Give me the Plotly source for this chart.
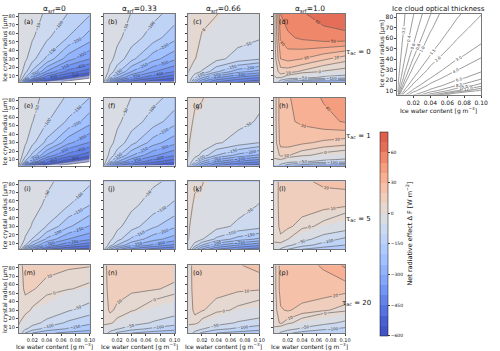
import plotly.graph_objects as go

# ---- data -----------------------------------------------------------------
IWC = [0.001, 0.01, 0.02, 0.04, 0.07, 0.1]  # ice water content [g m-3]
RADIUS = [3, 8, 15, 30, 55, 83]  # ice crystal radius [um]
ALBEDO = ["0", "0.33", "0.66", "1.0"]
TAU_AC = ["0", "1", "5", "20"]

# net radiative effect [W m-2]; rows follow RADIUS, columns follow IWC
NRE_A = [[-40, -350, -480, -560, -620, -650],
         [-15, -150, -295, -430, -530, -590],
         [-8, -82, -160, -305, -420, -480],
         [-4, -40, -82, -160, -280, -350],
         [-2, -22, -45, -90, -152, -225],
         [-1, -15, -30, -58, -102, -145]]
NRE_B = [[-33, -290, -400, -470, -530, -560],
         [-12, -125, -245, -355, -440, -490],
         [-6, -68, -133, -250, -345, -400],
         [-3, -35, -68, -133, -230, -290],
         [-1, -18, -38, -75, -125, -185],
         [-1, -12, -25, -52, -85, -120]]
NRE_C = [[-10, -200, -300, -400, -450, -480],
         [-3, -90, -190, -290, -360, -400],
         [1, -25, -55, -140, -230, -270],
         [1, 1, -8, -35, -70, -95],
         [2, 4, -1, -12, -32, -45],
         [3, 5, 3, 1, -15, -30]]
NRE_D = [[-5, -80, -150, -200, -230, -250],
         [-1, 2, -10, -30, -60, -80],
         [2, 15, 15, 8, -1, -5],
         [3, 30, 33, 30, 22, 14],
         [5, 42, 48, 52, 56, 57],
         [5, 50, 55, 59, 64, 67]]
NRE_E = [[-42, -360, -490, -570, -625, -655],
         [-16, -155, -300, -435, -535, -595],
         [-9, -85, -165, -310, -425, -485],
         [-4, -42, -85, -165, -285, -355],
         [-2, -24, -48, -95, -158, -230],
         [-1, -16, -34, -65, -108, -150]]
NRE_F = [[-32, -280, -390, -460, -520, -550],
         [-12, -120, -240, -345, -430, -480],
         [-6, -66, -130, -245, -340, -395],
         [-3, -36, -66, -130, -225, -285],
         [-1, -20, -40, -75, -122, -180],
         [-1, -13, -27, -51, -84, -118]]
NRE_G = [[-10, -200, -300, -400, -450, -480],
         [-3, -90, -190, -290, -350, -390],
         [1, -30, -65, -150, -215, -260],
         [1, -5, -15, -42, -70, -100],
         [2, -1, -5, -18, -35, -55],
         [2, 1, 1, -8, -25, -40]]
NRE_H = [[-5, -70, -130, -180, -210, -230],
         [-1, -5, -20, -40, -60, -75],
         [1, 12, 11, 3, -5, -10],
         [2, 24, 25, 22, 18, 15],
         [3, 26, 28, 32, 37, 41],
         [3, 26, 29, 34, 41, 43]]
NRE_I = [[-28, -255, -340, -450, -500, -520],
         [-10, -95, -200, -310, -390, -440],
         [-5, -55, -102, -210, -300, -340],
         [-3, -28, -55, -102, -190, -255],
         [-1, -15, -30, -60, -97, -150],
         [-1, -10, -20, -40, -70, -90]]
NRE_J = [[-20, -200, -280, -370, -420, -450],
         [-7, -70, -150, -240, -310, -360],
         [-3, -38, -75, -160, -230, -275],
         [-2, -18, -38, -75, -140, -190],
         [-1, -9, -20, -40, -70, -110],
         [-1, -6, -12, -25, -43, -60]]
NRE_K = [[-10, -170, -260, -350, -400, -430],
         [-3, -70, -150, -240, -300, -340],
         [1, -22, -45, -110, -170, -210],
         [1, -4, -12, -32, -60, -80],
         [2, -1, -4, -14, -30, -52],
         [2, 1, 1, -8, -20, -30]]
NRE_L = [[-5, -60, -100, -150, -180, -200],
         [-1, -5, -35, -80, -120, -150],
         [1, 8, 1, -30, -75, -110],
         [2, 13, 12, 6, -5, -20],
         [3, 14, 15, 15, 14, 12],
         [3, 14, 16, 18, 22, 24]]
NRE_M = [[-10, -100, -150, -190, -215, -230],
         [-2, -40, -75, -120, -155, -180],
         [1, -10, -30, -65, -110, -140],
         [2, 5, -2, -15, -45, -75],
         [4, 12, 11, 6, 1, -4],
         [5, 14, 15, 14, 12, 11]]
NRE_N = [[-8, -70, -110, -150, -175, -190],
         [-2, -20, -45, -80, -110, -130],
         [1, 3, -5, -25, -55, -80],
         [3, 12, 8, 2, -10, -25],
         [4, 15, 14, 12, 11, 8],
         [5, 16, 17, 17, 16, 15]]
NRE_O = [[-8, -70, -110, -150, -170, -185],
         [-2, -20, -45, -85, -110, -130],
         [1, 5, -5, -25, -55, -75],
         [3, 13, 11, 5, -3, -10],
         [4, 15, 15, 14, 12, 11],
         [4, 16, 17, 18, 19, 24]]
NRE_P = [[-5, -60, -90, -120, -140, -150],
         [-1, -10, -30, -60, -90, -110],
         [2, 12, 5, -10, -35, -60],
         [4, 19, 21, 17, 12, 5],
         [5, 24, 25, 26, 26, 24],
         [5, 24, 26, 27, 31, 42]]
PANELS = [NRE_A, NRE_B, NRE_C, NRE_D, NRE_E, NRE_F, NRE_G, NRE_H,
          NRE_I, NRE_J, NRE_K, NRE_L, NRE_M, NRE_N, NRE_O, NRE_P]

# ice cloud optical thickness (top-right panel); rows follow TAU_RADIUS
TAU_RADIUS = [3, 6, 10, 15, 22, 30, 42, 55, 70, 83]
TAU_ICE = [[0.55, 5.45, 10.9, 21.8, 38.2, 54.5],
           [0.27, 2.73, 5.45, 10.9, 19.1, 27.3],
           [0.16, 1.64, 3.27, 6.54, 11.5, 16.4],
           [0.11, 1.09, 2.18, 4.36, 7.63, 10.9],
           [0.074, 0.74, 1.49, 2.97, 5.2, 7.44],
           [0.055, 0.55, 1.09, 2.18, 3.82, 5.45],
           [0.039, 0.39, 0.78, 1.56, 2.73, 3.9],
           [0.03, 0.3, 0.59, 1.19, 2.08, 2.97],
           [0.023, 0.23, 0.47, 0.93, 1.64, 2.34],
           [0.02, 0.2, 0.39, 0.79, 1.38, 1.97]]
TAU_LEVELS = [0.2, 0.4, 0.6, 0.8, 1.0, 1.5, 2.0, 3.0, 4.0, 6.0, 8.0,
              10.0, 12.0, 14.0, 16.0]

CBAR_TICKS = [-600, -450, -300, -150, 0, 30, 60]

# ---- style ----------------------------------------------------------------
W, H = 500, 351
FONT = "DejaVu Sans"
INK = "#111111"
LINE = "#555555"
COL_LEFT = [19, 105, 191, 278]
ROW_TOP = [13, 97, 181, 265]
PW, PH = 72, 68

# one colour per contour band: -600..0 in steps of 50, then 0..80 in steps of 10
BAND_COLORS = ["#4155c8", "#4d68d7", "#5b79e4", "#698aef", "#779af7", "#86a9fc",
               "#94b6ff", "#a3c2ff", "#b1cbfc", "#bfd3f6", "#ccd9ee", "#d8dce3",
               "#e3d9d3", "#eed0c0", "#f5c4ad", "#f7b599", "#f6a485", "#f29071",
               "#e9795f", "#de604d"]
N_LEV = len(BAND_COLORS) + 1
BAND_STOPS = [[(i + 1) / N_LEV, c] for i, c in enumerate(BAND_COLORS)]
# panels leave values below -600 unfilled (white); the colour bar does not
CSCALE = [[0, "#ffffff"]] + BAND_STOPS + [[1, BAND_COLORS[-1]]]
CSCALE_BAR = [[0, BAND_COLORS[0]]] + BAND_STOPS + [[1, BAND_COLORS[-1]]]
LEVELS = dict(start=-12, end=8, size=1, coloring="fill")
IWC_TITLE = "Ice water content [g m<sup>\u22123</sup>]"
RAD_TITLE = "Ice crystal radius [\u03bcm]"


def band(v):
    """Map W m-2 onto evenly spaced band units (50 below zero, 10 above)."""
    return v / 50 if v < 0 else v / 10


def px_x(x):
    return x / W


def px_y(y):
    return 1 - y / H


fig = go.Figure()
ann = []
layout_axes = {}

for k, z in enumerate(PANELS):
    r, c = divmod(k, 4)
    n = "" if k == 0 else str(k + 1)
    left, top = COL_LEFT[c], ROW_TOP[r]
    fig.add_trace(go.Contour(
        x=IWC, y=RADIUS, z=[[band(v) for v in row] for row in z],
        xaxis="x" + n, yaxis="y" + n,
        colorscale=CSCALE, zmin=-12, zmax=8, autocontour=False,
        contours=LEVELS, line=dict(width=0, smoothing=0),
        showscale=False, hoverinfo="skip",
    ))
    # contour lines with inline labels, drawn on the raw values
    for start, end, size in ((-600, -50, 50), (0, 80, 10)):
        fig.add_trace(go.Contour(
            x=IWC, y=RADIUS, z=z, xaxis="x" + n, yaxis="y" + n,
            autocontour=False, showscale=False, hoverinfo="skip",
            contours=dict(start=start, end=end, size=size, coloring="none",
                          showlabels=True, labelformat="d",
                          labelfont=dict(size=4, color="#333", family=FONT)),
            line=dict(color=LINE, width=0.6, smoothing=0),
        ))
    layout_axes["xaxis" + n] = dict(
        domain=[px_x(left), px_x(left + PW)], anchor="y" + n,
        range=[0.001, 0.1], tickvals=[0.02, 0.04, 0.06, 0.08, 0.1],
        ticktext=["0.02", "0.04", "0.06", "0.08", "0.10"],
        showticklabels=(r == 3),
    )
    layout_axes["yaxis" + n] = dict(
        domain=[px_y(top + PH), px_y(top)], anchor="x" + n,
        range=[3, 83], tickvals=[10, 20, 30, 40, 50, 60, 70, 80],
        showticklabels=(c == 0),
    )
    ann.append(dict(x=px_x(left + 3), y=px_y(top + 2), text=f"({'abcdefghijklmnop'[k]})",
                    xanchor="left", yanchor="top", font=dict(size=6.5)))
    if r == 0:
        ann.append(dict(x=px_x(left + PW / 2), y=px_y(1), yanchor="top",
                        text=f"\u03b1<sub>srf</sub>={ALBEDO[c]}", font=dict(size=7.5)))
    if r == 3:
        ann.append(dict(x=px_x(left + PW / 2), y=px_y(346), text=IWC_TITLE,
                        font=dict(size=6)))
    if c == 0:
        ann.append(dict(x=px_x(5), y=px_y(top + PH / 2), textangle=-90,
                        text=RAD_TITLE, font=dict(size=6)))
    if c == 3:
        ann.append(dict(x=px_x(378), y=px_y(top + 38), xanchor="right",
                        text=f"\u03c4<sub>ac</sub> = {TAU_AC[r]}", font=dict(size=7)))

# colour bar carrier: a contour trace lying outside every visible axis range
fig.add_trace(go.Contour(
    x=[1, 2], y=[100, 101], z=[[-12, 8], [8, -12]], xaxis="x", yaxis="y",
    colorscale=CSCALE_BAR, zmin=-12, zmax=8, autocontour=False,
    contours=LEVELS, line=dict(width=0), hoverinfo="skip", showscale=True,
    colorbar=dict(
        x=px_x(385), xanchor="left", y=px_y(131), yanchor="top",
        len=205 / H, thickness=8, xpad=0, ypad=0,
        outlinewidth=0.5, outlinecolor=INK,
        tickvals=[band(v) for v in CBAR_TICKS],
        ticktext=[str(v).replace("-", "\u2212") for v in CBAR_TICKS],
        ticks="outside", ticklen=2, tickwidth=0.5,
        tickfont=dict(size=4.5, color=INK, family=FONT),
        title=dict(text="Net radiative effect \u0394 F [W m<sup>\u22122</sup>]",
                   side="right", font=dict(size=6.5, color=INK, family=FONT)),
    ),
))

# optical thickness panel, one trace per labelled level
for lev in TAU_LEVELS:
    fig.add_trace(go.Contour(
        x=IWC, y=TAU_RADIUS, z=TAU_ICE, xaxis="x17", yaxis="y17",
        autocontour=False, showscale=False, hoverinfo="skip",
        contours=dict(start=lev, end=lev, size=1, coloring="none",
                      showlabels=True, labelformat=".1f",
                      labelfont=dict(size=4, color="#333", family=FONT)),
        line=dict(color=LINE, width=0.6, smoothing=0),
    ))
layout_axes["xaxis17"] = dict(
    domain=[px_x(403), px_x(488)], anchor="y17", range=[0.001, 0.1],
    tickvals=[0.02, 0.04, 0.06, 0.08, 0.1],
    ticktext=["0.02", "0.04", "0.06", "0.08", "0.10"], tickfont=dict(size=6),
)
layout_axes["yaxis17"] = dict(
    domain=[px_y(94), px_y(13)], anchor="x17", range=[6, 83],
    tickvals=[10, 20, 30, 40, 50, 60, 70, 80], tickfont=dict(size=6),
)
ann += [
    dict(x=px_x(445), y=px_y(2), yanchor="top", text="Ice cloud optical thickness",
         font=dict(size=7)),
    dict(x=px_x(387), y=px_y(53), textangle=-90, text=RAD_TITLE, font=dict(size=6)),
    dict(x=px_x(445), y=px_y(110), text=IWC_TITLE, font=dict(size=6)),
]

for a in ann:
    a.setdefault("showarrow", False)
    a.setdefault("xref", "paper")
    a.setdefault("yref", "paper")
    a.setdefault("xanchor", "center")
    a.setdefault("yanchor", "middle")
    a["font"] = dict(family=FONT, color=INK, **a["font"])

common = dict(showline=True, mirror=True, linecolor="#777", linewidth=0.8,
              showgrid=False, zeroline=False, ticks="outside", ticklen=2,
              tickwidth=0.5, tickcolor="#444")
for name, ax in layout_axes.items():
    ax.setdefault("tickfont", dict(size=5))
    ax["tickfont"] = dict(family=FONT, color=INK, **ax["tickfont"])
    ax.update(common)

fig.update_layout(
    width=W, height=H, margin=dict(l=0, r=0, t=0, b=0),
    paper_bgcolor="white", plot_bgcolor="white",
    font=dict(family=FONT, color=INK), showlegend=False,
    annotations=ann, **layout_axes,
)
# the page's default body margin would shift the figure by 8px
fig.write_html("out.html", config={"displayModeBar": False},
               post_script="document.body.style.margin='0';")
